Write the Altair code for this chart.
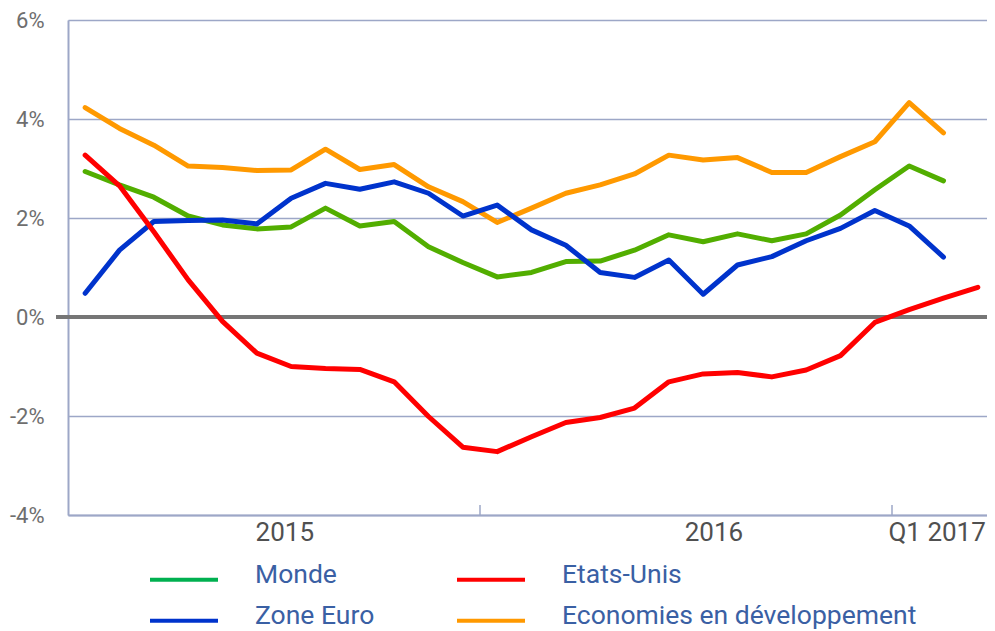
import altair as alt
import pandas as pd

# ---------------- data ----------------
months = ["2015-01", "2015-02", "2015-03", "2015-04", "2015-05", "2015-06",
          "2015-07", "2015-08", "2015-09", "2015-10", "2015-11", "2015-12",
          "2016-01", "2016-02", "2016-03", "2016-04", "2016-05", "2016-06",
          "2016-07", "2016-08", "2016-09", "2016-10", "2016-11", "2016-12",
          "2017-01", "2017-02", "2017-03"]

monde = [2.94, 2.67, 2.42, 2.04, 1.86, 1.78, 1.82, 2.20, 1.84, 1.93, 1.42, 1.10,
         0.81, 0.90, 1.12, 1.13, 1.35, 1.66, 1.52, 1.68, 1.54, 1.68, 2.06, 2.57,
         3.05, 2.75]
zone_euro = [0.48, 1.35, 1.93, 1.95, 1.96, 1.88, 2.40, 2.70, 2.58, 2.73, 2.50, 2.04,
             2.26, 1.76, 1.45, 0.90, 0.80, 1.15, 0.46, 1.05, 1.22, 1.54, 1.79, 2.15,
             1.84, 1.21]
etats_unis = [3.27, 2.65, 1.72, 0.75, -0.09, -0.73, -1.00, -1.04, -1.06, -1.31, -2.01,
              -2.63, -2.72, -2.42, -2.13, -2.03, -1.84, -1.31, -1.15, -1.12, -1.21,
              -1.07, -0.78, -0.11, 0.15, 0.38, 0.60]
eco_dev = [4.23, 3.81, 3.47, 3.05, 3.02, 2.96, 2.97, 3.39, 2.98, 3.08, 2.63, 2.33,
           1.91, 2.20, 2.50, 2.67, 2.89, 3.27, 3.17, 3.22, 2.92, 2.92, 3.24, 3.54,
           4.33, 3.72]

series_names = ["Economies en développement", "Monde", "Zone Euro", "Etats-Unis"]
series_values = [eco_dev, monde, zone_euro, etats_unis]
line_colors = ["#FF9900", "#52AE00", "#0033CC", "#FF0000"]

legend_names = ["Monde", "Etats-Unis", "Zone Euro", "Economies en développement"]
legend_colors = ["#00B050", "#FF0000", "#0033CC", "#FF9900"]
legend_col = [0, 1, 0, 1]
legend_row = [0, 0, 1, 1]

year_labels = ["2015", "2016", "Q1 2017"]
year_label_pos = [5.8, 18.3, 24.8]
year_sep_pos = [11.5, 23.5]
y_ticks = [-4, -2, 0, 2, 4, 6]

# ---------------- tables ----------------
rows = []
for name, vals in zip(series_names, series_values):
    for i, v in enumerate(vals):
        rows.append({"idx": i, "month": months[i], "series": name, "value": v})
df = pd.DataFrame(rows)

legend_df = pd.DataFrame({"name": legend_names, "col": legend_col, "row": legend_row})
sep_df = pd.DataFrame({"pos": year_sep_pos})

W, H = 927, 495
GRID = "#9DA7C7"
FONT = "Roboto"

x_scale = alt.Scale(domain=[-0.5, len(months) - 0.5], nice=False, zero=False)
y_scale = alt.Scale(domain=[-4, 6], nice=False, zero=False)

label_expr = ("datum.value < 12 ? '%s' : datum.value < 24 ? '%s' : '%s'"
              % tuple(year_labels))

lines = alt.Chart(df).mark_line(strokeWidth=5, strokeCap="round", strokeJoin="round").encode(
    x=alt.X("idx:Q", scale=x_scale, title=None,
            axis=alt.Axis(values=year_label_pos, labelExpr=label_expr, ticks=False,
                          grid=False, domainColor=GRID, domainWidth=2,
                          labelFontSize=26, labelColor="#505050", labelFont=FONT,
                          labelBaseline="middle", labelPadding=17,
                          labelOverlap=False, labelFlush=False, labelBound=False)),
    y=alt.Y("value:Q", scale=y_scale, title=None,
            axis=alt.Axis(values=y_ticks, labelExpr="datum.value + '%'", ticks=False,
                          grid=True, gridColor=GRID, gridWidth=1.5,
                          domainColor=GRID, domainWidth=2,
                          labelFontSize=22, labelColor="#6E6E6E", labelFont=FONT,
                          labelPadding=24)),
    color=alt.Color("series:N", scale=alt.Scale(domain=series_names, range=line_colors),
                    legend=None),
    order=alt.Order("idx:Q"),
)

zero_line = alt.Chart(df).mark_rule(color="#767676", strokeWidth=3).encode(
    y=alt.datum(0, scale=y_scale),
    x=alt.value(-12),
    x2=alt.value(W),
)

seps = alt.Chart(sep_df).mark_rule(color=GRID, strokeWidth=1.5).encode(
    x=alt.X("pos:Q", scale=x_scale),
    y=alt.value(H - 10),
    y2=alt.value(H),
)

main = alt.layer(zero_line, lines, seps)

leg_x = alt.Scale(domain=[0, 1], range=[82, 389], nice=False, zero=False)
leg_y = alt.Scale(domain=[0, 1], range=[559.7, 600.7], nice=False, zero=False)
leg_color = alt.Scale(domain=legend_names, range=legend_colors)

leg_sym = alt.Chart(legend_df).mark_rule(strokeWidth=4, x2Offset=68).encode(
    x=alt.X("col:Q", scale=leg_x, axis=None),
    x2=alt.X2("col"),
    y=alt.Y("row:Q", scale=leg_y, axis=None),
    color=alt.Color("name:N", scale=leg_color, legend=None),
)
leg_txt = alt.Chart(legend_df).mark_text(
    align="left", baseline="middle", dx=105, dy=-5, fontSize=26.5, font=FONT,
    color="#3A60A4").encode(
    x=alt.X("col:Q", scale=leg_x, axis=None),
    y=alt.Y("row:Q", scale=leg_y, axis=None),
    text="name:N",
)
legend = alt.layer(leg_sym, leg_txt)

chart = alt.layer(main, legend).resolve_scale(
    x="independent", y="independent", color="independent"
).properties(
    width=W, height=H,
    autosize=alt.AutoSizeParams(type="none"),
    padding={"left": 60, "top": 12, "right": -8, "bottom": 118},
).configure_view(stroke=None).configure(font=FONT, background="white")

chart.save("out.html", embed_options={"renderer": "svg", "actions": False})
